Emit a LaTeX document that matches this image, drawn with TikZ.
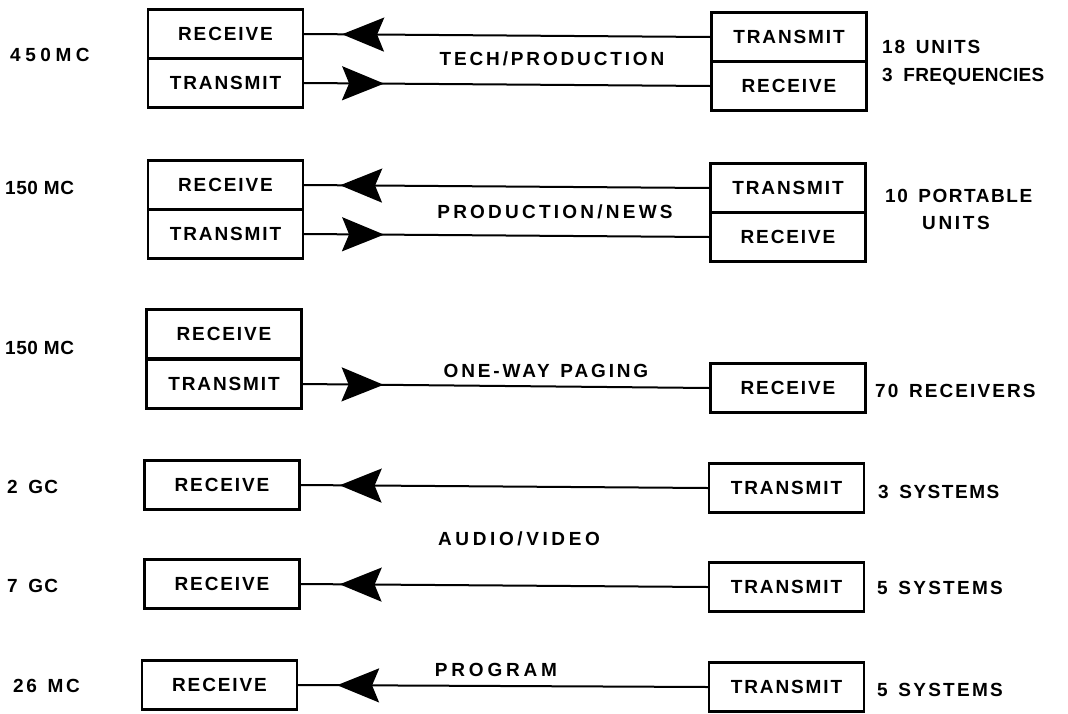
\documentclass[tikz,border=0pt]{standalone}
\usepackage{fontspec}
\setmainfont{Liberation Sans}
\usetikzlibrary{arrows.meta,decorations.markings}
\newcommand{\widespace}{\spaceskip 10.6pt\relax}
\tikzset{
  box/.style={draw, line width=2.2pt, minimum width=155pt, minimum height=49pt,
    inner sep=0pt, text height=13.6pt, text depth=0pt,
    font={\bfseries\fontsize{19}{22}\selectfont\addfontfeatures{LetterSpace=10}}},
  lab/.style={inner sep=0pt, text height=13.6pt, text depth=0pt,
    font={\bfseries\fontsize{19}{22}\selectfont\addfontfeatures{LetterSpace=#1}}},
  lab/.default=12,
  labw/.style={inner sep=0pt, text height=13.6pt, text depth=0pt,
    font={\bfseries\fontsize{19}{22}\selectfont\addfontfeatures{LetterSpace=#1}\widespace}},
  wire/.style={line width=2pt},
  fwd/.style={postaction={decorate}, decoration={markings,
    mark=at position #1 with {\arrow{Stealth[length=42pt,width=34pt,inset=7pt]}}}},
  bwd/.style={postaction={decorate}, decoration={markings,
    mark=at position #1 with {\arrowreversed{Stealth[length=42pt,width=34pt,inset=7pt]}}}},
}
\begin{document}
\begin{tikzpicture}[x=1pt,y=-1pt]
\useasboundingbox (0,0) rectangle (1068,713);

% Row 1 : 450MC
\node[box] (l1r) at (225.5,34) {RECEIVE};
\node[box] (l1t) at (225.5,83) {TRANSMIT};
\node[box] (r1t) at (789,37) {TRANSMIT};
\node[box] (r1r) at (789,86) {RECEIVE};
\draw[wire,bwd=38pt] (l1r.east) -- (r1t.west);
\draw[wire,fwd=80pt] (l1t.east) -- (r1r.west);
\node[lab=24,anchor=west] (f1) at (10,55) {450MC};
\node[lab=15] (c1) at (552,59) {TECH/PRODUCTION};
\node[labw=10,anchor=west] (n1a) at (882,47) {18 UNITS};
\node[labw=2,anchor=west] (n1b) at (882,75) {3 FREQUENCIES};

% Row 2 : 150 MC
\node[box] (l2r) at (225.5,185) {RECEIVE};
\node[box] (l2t) at (225.5,234) {TRANSMIT};
\node[box] (r2t) at (788,188) {TRANSMIT};
\node[box] (r2r) at (788,237) {RECEIVE};
\draw[wire,bwd=36pt] (l2r.east) -- (r2t.west);
\draw[wire,fwd=80pt] (l2t.east) -- (r2r.west);
\node[lab=3,anchor=west] (f2) at (5,188) {150 MC};
\node[lab=17] (c2) at (555,212) {PRODUCTION/NEWS};
\node[labw=8,anchor=west] (n2a) at (885,196) {10 PORTABLE};
\node[lab=14] (n2b) at (956,223) {UNITS};

% Row 3 : 150 MC paging
\node[box] (l3r) at (224,334) {RECEIVE};
\node[box] (l3t) at (224,384) {TRANSMIT};
\node[box] (r3r) at (788,388) {RECEIVE};
\draw[wire,fwd=81pt] (l3t.east) -- (r3r.west);
\node[lab=3,anchor=west] (f3) at (5,348) {150 MC};
\node[labw=15] (c3) at (546,371) {ONE-WAY PAGING};
\node[labw=11,anchor=west] (n3) at (875,391) {70 RECEIVERS};

% Row 4 : 2 GC
\node[box] (l4r) at (222,485) {RECEIVE};
\node[box] (r4t) at (786.5,488) {TRANSMIT};
\draw[wire,bwd=39pt] (l4r.east) -- (r4t.west);
\node[labw=7,anchor=west] (f4) at (7,487) {2 GC};
\node[labw=8,anchor=west] (n4) at (878,492) {3 SYSTEMS};

\node[lab=19] (c4) at (519,539) {AUDIO/VIDEO};

% Row 5 : 7 GC
\node[box] (l5r) at (222,584) {RECEIVE};
\node[box] (r5t) at (786.5,587) {TRANSMIT};
\draw[wire,bwd=39pt] (l5r.east) -- (r5t.west);
\node[labw=7,anchor=west] (f5) at (7,586) {7 GC};
\node[labw=12,anchor=west] (n5) at (877,588) {5 SYSTEMS};

% Row 6 : 26 MC
\node[box] (l6r) at (219.5,685) {RECEIVE};
\node[box] (r6t) at (786.5,687) {TRANSMIT};
\draw[wire,bwd=39pt] (l6r.east) -- (r6t.west);
\node[labw=14,anchor=west] (f6) at (13,686) {26 MC};
\node[lab=20] (c6) at (496,670) {PROGRAM};
\node[labw=12,anchor=west] (n6) at (877,690) {5 SYSTEMS};
\end{tikzpicture}
\end{document}
